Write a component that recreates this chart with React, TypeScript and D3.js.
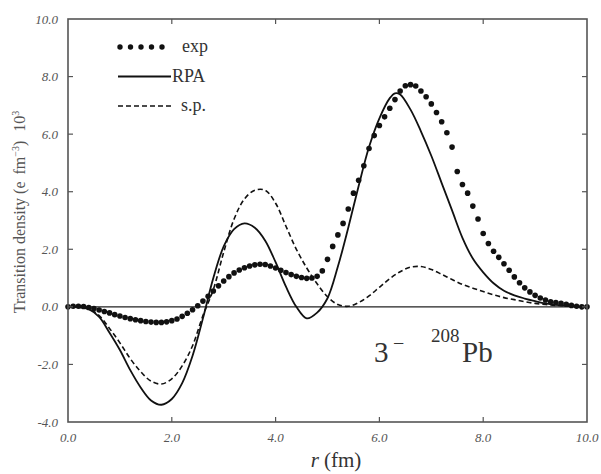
import React from "react";
import * as d3 from "d3";

const expR = [0.0,0.1,0.2,0.3,0.4,0.5,0.6,0.7,0.8,0.9,1.0,1.1,1.2,1.3,1.4,1.5,1.6,1.7,1.8,1.9,2.0,2.1,2.2,2.3,2.4,2.5,2.6,2.7,2.8,2.9,3.0,3.1,3.2,3.3,3.4,3.5,3.6,3.7,3.8,3.9,4.0,4.1,4.2,4.3,4.4,4.5,4.6,4.7,4.8,4.9,5.0,5.1,5.2,5.3,5.4,5.5,5.6,5.7,5.8,5.9,6.0,6.1,6.2,6.3,6.4,6.5,6.6,6.7,6.8,6.9,7.0,7.1,7.2,7.3,7.4,7.5,7.6,7.7,7.8,7.9,8.0,8.1,8.2,8.3,8.4,8.5,8.6,8.7,8.8,8.9,9.0,9.1,9.2,9.3,9.4,9.5,9.6,9.7,9.8,9.9,10.0];
const expV = [0.0,0.02,0.02,0.01,-0.02,-0.06,-0.11,-0.16,-0.21,-0.27,-0.32,-0.37,-0.41,-0.45,-0.48,-0.51,-0.53,-0.54,-0.54,-0.52,-0.48,-0.42,-0.33,-0.22,-0.10,0.04,0.2,0.37,0.55,0.73,0.9,1.05,1.18,1.28,1.36,1.42,1.46,1.48,1.47,1.42,1.35,1.27,1.19,1.12,1.06,1.02,0.99,1.0,1.06,1.25,1.65,2.1,2.5,2.9,3.4,3.95,4.4,4.9,5.5,5.95,6.3,6.6,6.9,7.2,7.5,7.68,7.72,7.67,7.5,7.3,7.05,6.75,6.43,6.05,5.55,4.7,4.25,3.95,3.5,3.05,2.55,2.2,1.93,1.72,1.5,1.27,1.04,0.84,0.66,0.52,0.40,0.31,0.24,0.18,0.15,0.12,0.09,0.05,0.02,0.0,0.0];

const rpaR = [0.0,0.2,0.4,0.6,0.8,1.0,1.2,1.4,1.6,1.8,2.0,2.2,2.4,2.6,2.8,3.0,3.2,3.4,3.6,3.8,4.0,4.2,4.4,4.6,4.8,5.0,5.2,5.4,5.6,5.8,6.0,6.2,6.3,6.4,6.6,6.8,7.0,7.2,7.4,7.6,7.8,8.0,8.2,8.4,8.6,8.8,9.0,9.2,9.4,9.6,9.8,10.0];
const rpaV = [0.0,-0.01,-0.08,-0.35,-0.9,-1.5,-2.2,-2.8,-3.25,-3.4,-3.2,-2.65,-1.7,-0.4,1.0,2.1,2.7,2.9,2.75,2.3,1.55,0.7,0.0,-0.4,-0.2,0.3,1.4,2.75,4.2,5.55,6.55,7.25,7.42,7.38,6.85,6.1,5.25,4.3,3.35,2.4,1.68,1.2,0.82,0.56,0.4,0.29,0.2,0.12,0.07,0.04,0.01,0.0];

const spR = [0.0,0.2,0.4,0.6,0.8,1.0,1.2,1.4,1.6,1.8,2.0,2.2,2.4,2.6,2.8,3.0,3.2,3.4,3.6,3.8,4.0,4.2,4.4,4.6,4.8,5.0,5.2,5.4,5.6,5.8,6.0,6.2,6.4,6.6,6.8,7.0,7.2,7.4,7.6,7.8,8.0,8.2,8.4,8.6,8.8,9.0,9.2,9.4,9.6,9.8,10.0];
const spV = [0.0,-0.01,-0.07,-0.3,-0.75,-1.25,-1.8,-2.25,-2.58,-2.68,-2.5,-2.05,-1.35,-0.3,0.6,1.9,3.05,3.75,4.05,4.05,3.6,2.8,2.0,1.35,0.8,0.35,0.08,0.02,0.15,0.38,0.68,0.98,1.22,1.38,1.4,1.3,1.13,0.95,0.78,0.65,0.53,0.42,0.32,0.25,0.18,0.12,0.08,0.05,0.03,0.01,0.0];

const xTicks = [0, 2, 4, 6, 8, 10];
const yTicks = [-4, -2, 0, 2, 4, 6, 8, 10];
const legendLabels = ["exp", "RPA", "s.p."];

const W = 601, H = 474;
const M = { left: 68, right: 587, top: 19, bottom: 422 };
const serif = "Liberation Serif, DejaVu Serif, serif";
const gray = "#555";

export default function App() {
  const x = d3.scaleLinear().domain([0, 10]).range([M.left, M.right]);
  const y = d3.scaleLinear().domain([-4, 10]).range([M.bottom, M.top]);
  const line = d3
    .line<[number, number]>()
    .x((d) => x(d[0]))
    .y((d) => y(d[1]))
    .curve(d3.curveCatmullRom.alpha(0.5));
  const rpa = rpaR.map((r, i) => [r, rpaV[i]] as [number, number]);
  const sp = spR.map((r, i) => [r, spV[i]] as [number, number]);
  const tk = 5;

  return (
    <svg
      width={W}
      height={H}
      style={{ position: "absolute", left: 0, top: 0, background: "#fff", fontFamily: serif }}
    >
      {/* zero line */}
      <line x1={x(0)} x2={x(10)} y1={y(0)} y2={y(0)} stroke="#222" strokeWidth={1.2} />
      {/* curves */}
      <path d={line(sp) || ""} fill="none" stroke="#111" strokeWidth={1.6} strokeDasharray="5,3" />
      <path d={line(rpa) || ""} fill="none" stroke="#111" strokeWidth={1.8} />
      {expR.map((r, i) => (
        <circle key={i} cx={x(r)} cy={y(expV[i])} r={2.8} fill="#111" />
      ))}
      {/* frame */}
      <rect x={M.left} y={M.top} width={M.right - M.left} height={M.bottom - M.top} fill="none" stroke={gray} strokeWidth={1.6} />
      {/* ticks */}
      {xTicks.slice(1, -1).map((t) => (
        <g key={"xt" + t}>
          <line x1={x(t)} x2={x(t)} y1={M.bottom} y2={M.bottom - tk} stroke={gray} strokeWidth={1.2} />
          <line x1={x(t)} x2={x(t)} y1={M.top} y2={M.top + tk} stroke={gray} strokeWidth={1.2} />
        </g>
      ))}
      {yTicks.slice(1, -1).map((t) => (
        <g key={"yt" + t}>
          <line x1={M.left} x2={M.left + tk} y1={y(t)} y2={y(t)} stroke={gray} strokeWidth={1.2} />
          <line x1={M.right} x2={M.right - tk} y1={y(t)} y2={y(t)} stroke={gray} strokeWidth={1.2} />
        </g>
      ))}
      {/* tick labels */}
      {xTicks.map((t) => (
        <text key={"xl" + t} x={x(t)} y={442} textAnchor="middle" fontSize={13} fontStyle="italic" fill={gray}>
          {t.toFixed(1)}
        </text>
      ))}
      {yTicks.map((t) => (
        <text key={"yl" + t} x={58} y={y(t) + 4.5} textAnchor="end" fontSize={13} fontStyle="italic" fill={gray}>
          {t.toFixed(1)}
        </text>
      ))}
      {/* axis titles */}
      <text x={336} y={467} textAnchor="middle" fontSize={21} fill="#333">
        <tspan fontStyle="italic">r</tspan>
        <tspan dx={5}>(fm)</tspan>
      </text>
      <text transform={`translate(25,212) rotate(-90)`} textAnchor="middle" fontSize={16} fill={gray}>
        <tspan>Transition density (e</tspan>
        <tspan dx={7}>fm</tspan>
        <tspan dy={-6} fontSize={10}>−3</tspan>
        <tspan dy={6}>)</tspan>
        <tspan dx={9}>10</tspan>
        <tspan dy={-6} fontSize={10}>3</tspan>
      </text>
      {/* legend */}
      {d3.range(5).map((i) => (
        <circle key={"lg" + i} cx={120 + i * 10.5} cy={47} r={2.7} fill="#111" />
      ))}
      <line x1={118} x2={171} y1={76.5} y2={76.5} stroke="#111" strokeWidth={1.8} />
      <line x1={118} x2={172} y1={106} y2={106} stroke="#111" strokeWidth={1.6} strokeDasharray="5,3" />
      <text x={182} y={52} fontSize={18} fill="#333">{legendLabels[0]}</text>
      <text x={172} y={82} fontSize={18} fill="#333">{legendLabels[1]}</text>
      <text x={181} y={111} fontSize={18} fill="#333">{legendLabels[2]}</text>
      {/* annotation */}
      <text x={374} y={362} fontSize={29} fill="#333">3</text>
      <text x={393} y={350} fontSize={20} fill="#333">−</text>
      <text x={431} y={342} fontSize={19} fill="#333">208</text>
      <text x={462} y={362} fontSize={29} fill="#333">Pb</text>
    </svg>
  );
}
